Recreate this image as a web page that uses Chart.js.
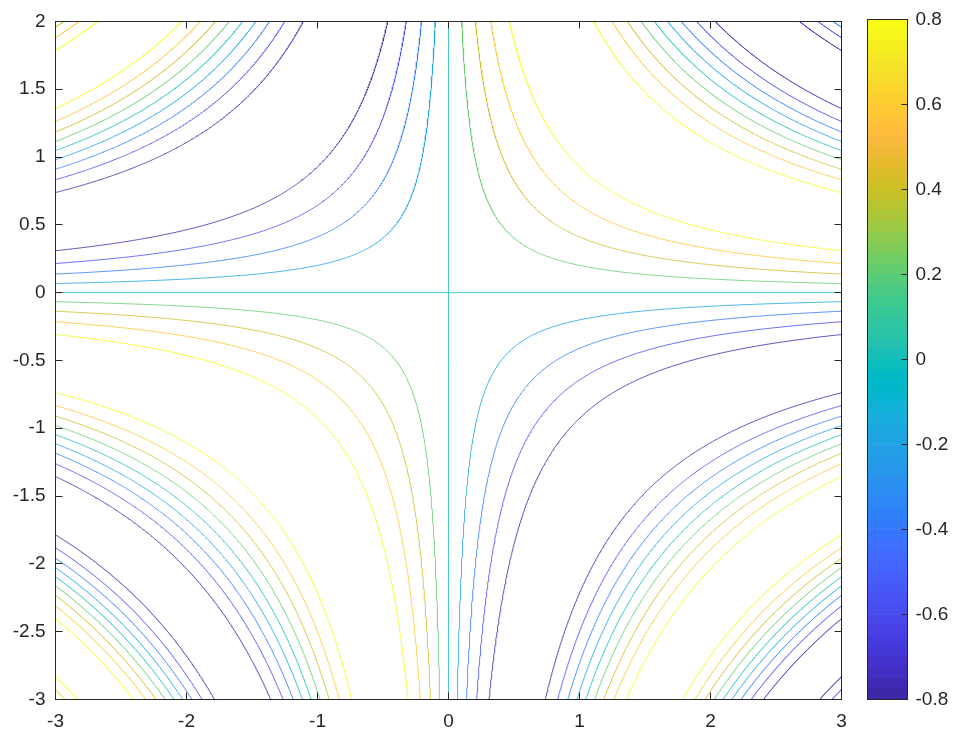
<!DOCTYPE html>
<html><head><meta charset="utf-8">
<script src="https://cdn.jsdelivr.net/npm/chart.js@4/dist/chart.umd.min.js"></script>
<style>
html,body{margin:0;padding:0;background:#fff;}
#wrap{position:relative;width:954px;height:733px;}
canvas{position:absolute;left:0;top:0;}
</style></head><body>
<div id="wrap"><canvas id="main" width="954" height="733"></canvas><canvas id="cbar" width="954" height="733"></canvas></div>
<script>
// ---- data ----
const xLimits = [-3, 3];
const yLimits = [-3, 2];
const xTicks = [-3, -2, -1, 0, 1, 2, 3];
const yTicks = [2, 1.5, 1, 0.5, 0, -0.5, -1, -1.5, -2, -2.5, -3];
const cbarTicks = [0.8, 0.6, 0.4, 0.2, 0, -0.2, -0.4, -0.6, -0.8];
const levels = [-0.8, -0.6, -0.4, -0.2, 0, 0.2, 0.4, 0.6, 0.8];
// constant |x*y| along each contour curve, one entry per level (quadrants where x*y>0)
const innerProducts  = [null, null, null, null, 0, 0.201, 0.411, 0.644, 0.927];
const outerProducts1 = [4.069, 3.785, 3.553, 3.343, 3.142, 2.940, 2.730, 2.498, 2.214];
const outerProducts2 = [5.356, 5.640, 5.872, 6.082, 6.283, 6.485, 6.695, 6.927, 7.210];
const cornerProducts = [null, null, null, null, null, null, null, 8.781, 8.497];
const parula = [
[0.2422,0.1504,0.6603],[0.2504,0.1650,0.7076],[0.2578,0.1818,0.7511],[0.2647,0.1978,0.7952],
[0.2706,0.2147,0.8364],[0.2751,0.2342,0.8710],[0.2783,0.2559,0.8991],[0.2803,0.2782,0.9221],
[0.2813,0.3006,0.9414],[0.2810,0.3228,0.9579],[0.2795,0.3447,0.9717],[0.2760,0.3667,0.9829],
[0.2699,0.3892,0.9906],[0.2602,0.4123,0.9952],[0.2440,0.4358,0.9988],[0.2206,0.4603,0.9973],
[0.1963,0.4847,0.9892],[0.1834,0.5074,0.9798],[0.1786,0.5289,0.9682],[0.1764,0.5499,0.9520],
[0.1687,0.5703,0.9359],[0.1540,0.5902,0.9218],[0.1460,0.6091,0.9079],[0.1380,0.6276,0.8973],
[0.1248,0.6459,0.8883],[0.1113,0.6635,0.8763],[0.0952,0.6798,0.8598],[0.0689,0.6948,0.8394],
[0.0297,0.7082,0.8163],[0.0036,0.7203,0.7917],[0.0067,0.7312,0.7660],[0.0433,0.7411,0.7394],
[0.0964,0.7500,0.7120],[0.1408,0.7584,0.6842],[0.1717,0.7670,0.6554],[0.1938,0.7758,0.6251],
[0.2161,0.7843,0.5923],[0.2470,0.7918,0.5567],[0.2906,0.7973,0.5188],[0.3406,0.8008,0.4789],
[0.3909,0.8029,0.4354],[0.4456,0.8024,0.3909],[0.5044,0.7993,0.3480],[0.5616,0.7942,0.3045],
[0.6174,0.7876,0.2612],[0.6720,0.7793,0.2227],[0.7242,0.7698,0.1910],[0.7738,0.7598,0.1646],
[0.8203,0.7498,0.1535],[0.8634,0.7406,0.1596],[0.9035,0.7330,0.1774],[0.9393,0.7288,0.2100],
[0.9728,0.7298,0.2394],[0.9956,0.7434,0.2371],[0.9970,0.7659,0.2199],[0.9952,0.7893,0.2028],
[0.9892,0.8136,0.1885],[0.9786,0.8386,0.1766],[0.9676,0.8639,0.1643],[0.9610,0.8890,0.1537],
[0.9597,0.9135,0.1423],[0.9628,0.9373,0.1265],[0.9691,0.9606,0.1064],[0.9769,0.9839,0.0805]];

// ---- helpers ----
const cmin = levels[0], cmax = levels[levels.length - 1];
const TEXT = '#262626';
const FONT = {family: "'Liberation Sans', Arial, Helvetica, sans-serif", size: 19};
function rgb(c) { return 'rgb(' + c.map(v => Math.round(v * 255)).join(',') + ')'; }
function levelColor(v) {
  let i = Math.floor((v - cmin) / (cmax - cmin) * parula.length);
  i = Math.max(0, Math.min(parula.length - 1, i));
  return rgb(parula[i]);
}
const lineStyle = {showLine: true, pointRadius: 0, borderWidth: 0.8, fill: false, tension: 0,
  borderJoinStyle: 'round', borderCapStyle: 'butt'};

const datasets = [];
function addHyperbola(k, level, sx, sy) {
  const yAbsMax = sy > 0 ? Math.abs(yLimits[1]) : Math.abs(yLimits[0]);
  const xAbsMax = sx > 0 ? Math.abs(xLimits[1]) : Math.abs(xLimits[0]);
  const x0 = k / yAbsMax;
  if (x0 >= xAbsMax) return;
  const N = 300, pts = [];
  for (let j = 0; j < N; j++) {
    const ax = x0 * Math.pow(xAbsMax / x0, j / (N - 1));
    pts.push({x: sx * ax, y: sy * k / ax});
  }
  datasets.push(Object.assign({data: pts, borderColor: levelColor(level)}, lineStyle));
}
function addCurve(k, i) {
  if (k === null) return;
  if (k === 0) {
    const c = levelColor(levels[i]);
    datasets.push(Object.assign({data: [{x: xLimits[0], y: 0}, {x: xLimits[1], y: 0}], borderColor: c}, lineStyle));
    datasets.push(Object.assign({data: [{x: 0, y: yLimits[0]}, {x: 0, y: yLimits[1]}], borderColor: c}, lineStyle));
    return;
  }
  addHyperbola(k, levels[i], 1, 1);
  addHyperbola(k, levels[i], -1, -1);
  addHyperbola(k, -levels[i], -1, 1);
  addHyperbola(k, -levels[i], 1, -1);
}
[innerProducts, outerProducts1, outerProducts2, cornerProducts].forEach(arr => arr.forEach((k, i) => addCurve(k, i)));

function snap(p) { return Math.round(p - 0.5) + 0.5; }

const boxPlugin = {
  id: 'box',
  afterDatasetsDraw(chart) {
    const {ctx, chartArea: a, scales: {x, y}} = chart;
    ctx.save();
    ctx.strokeStyle = TEXT; ctx.lineWidth = 1;
    const L = snap(a.left), R = snap(a.right), T = snap(a.top), B = snap(a.bottom);
    ctx.strokeRect(L, T, R - L, B - T);
    ctx.beginPath();
    const len = 7;
    xTicks.forEach(v => { const p = snap(x.getPixelForValue(v)); ctx.moveTo(p, B); ctx.lineTo(p, B - len); ctx.moveTo(p, T); ctx.lineTo(p, T + len); });
    yTicks.forEach(v => { const p = snap(y.getPixelForValue(v)); ctx.moveTo(L, p); ctx.lineTo(L + len, p); ctx.moveTo(R, p); ctx.lineTo(R - len, p); });
    ctx.stroke();
    ctx.restore();
  }
};

new Chart(document.getElementById('main'), {
  type: 'scatter',
  data: {datasets},
  options: {
    animation: false, responsive: false, events: [],
    plugins: {legend: {display: false}, tooltip: {enabled: false}},
    layout: {padding: {left: 0, right: 112.5, top: 14.5, bottom: 0}},
    scales: {
      x: {
        type: 'linear', min: xLimits[0], max: xLimits[1],
        afterBuildTicks: s => { s.ticks = xTicks.map(v => ({value: v})); },
        afterFit: s => { s.height = 33.5; },
        grid: {display: false, drawTicks: false}, border: {display: false},
        ticks: {padding: 11, color: TEXT, font: FONT, maxRotation: 0, autoSkip: false, callback: v => String(v)}
      },
      y: {
        type: 'linear', min: yLimits[0], max: yLimits[1],
        afterBuildTicks: s => { s.ticks = yTicks.map(v => ({value: v})); },
        afterFit: s => { s.width = 55.5; },
        grid: {display: false, drawTicks: false}, border: {display: false},
        ticks: {padding: 10, color: TEXT, font: FONT, autoSkip: false, callback: v => String(v)}
      }
    }
  },
  plugins: [boxPlugin]
});

// ---- colorbar ----
const step = (cmax - cmin) / parula.length;
const cbarSets = parula.map((c, i) => ({
  data: [[cmin + i * step, cmin + (i + 1) * step]],
  backgroundColor: rgb(c), borderWidth: 0,
  barPercentage: 1, categoryPercentage: 1, grouped: false
}));
const cbarPlugin = {
  id: 'cbox',
  afterDatasetsDraw(chart) {
    const {ctx, chartArea: a, scales: {y}} = chart;
    ctx.save();
    ctx.strokeStyle = TEXT; ctx.lineWidth = 1;
    const L = snap(a.left), R = snap(a.right), T = snap(a.top), B = snap(a.bottom);
    ctx.strokeRect(L, T, R - L, B - T);
    ctx.beginPath();
    cbarTicks.forEach(v => { const p = snap(y.getPixelForValue(v)); ctx.moveTo(R, p); ctx.lineTo(R - 6, p); });
    ctx.stroke();
    ctx.restore();
  }
};
new Chart(document.getElementById('cbar'), {
  type: 'bar',
  data: {labels: [''], datasets: cbarSets},
  options: {
    animation: false, responsive: false, events: [],
    plugins: {legend: {display: false}, tooltip: {enabled: false}},
    layout: {padding: {left: 867.5, right: 0, top: 14.5, bottom: 33.5}},
    scales: {
      x: {display: false},
      y: {
        position: 'right', min: cmin, max: cmax,
        afterBuildTicks: s => { s.ticks = cbarTicks.map(v => ({value: v})); },
        afterFit: s => { s.width = 46.5; },
        grid: {display: false, drawTicks: false}, border: {display: false},
        ticks: {padding: 8, color: TEXT, font: FONT, autoSkip: false, callback: v => String(v)}
      }
    }
  },
  plugins: [cbarPlugin]
});
</script>
</body></html>
